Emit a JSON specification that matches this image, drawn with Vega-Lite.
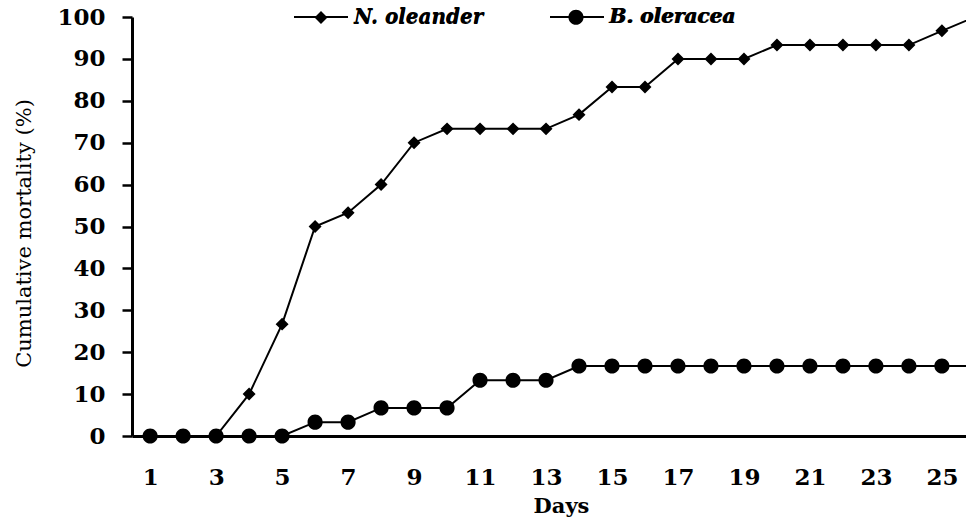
{
  "$schema": "https://vega.github.io/schema/vega-lite/v6.json",
  "width": 834,
  "height": 419,
  "autosize": {"type": "none"},
  "padding": {"left": 132, "top": 17, "right": 0, "bottom": 81},
  "background": "white",
  "data": {
    "values": [
      {"day": 1, "mortality": 0, "plant": "N. oleander"},
      {"day": 2, "mortality": 0, "plant": "N. oleander"},
      {"day": 3, "mortality": 0, "plant": "N. oleander"},
      {"day": 4, "mortality": 10, "plant": "N. oleander"},
      {"day": 5, "mortality": 26.7, "plant": "N. oleander"},
      {"day": 6, "mortality": 50, "plant": "N. oleander"},
      {"day": 7, "mortality": 53.3, "plant": "N. oleander"},
      {"day": 8, "mortality": 60, "plant": "N. oleander"},
      {"day": 9, "mortality": 70, "plant": "N. oleander"},
      {"day": 10, "mortality": 73.3, "plant": "N. oleander"},
      {"day": 11, "mortality": 73.3, "plant": "N. oleander"},
      {"day": 12, "mortality": 73.3, "plant": "N. oleander"},
      {"day": 13, "mortality": 73.3, "plant": "N. oleander"},
      {"day": 14, "mortality": 76.7, "plant": "N. oleander"},
      {"day": 15, "mortality": 83.3, "plant": "N. oleander"},
      {"day": 16, "mortality": 83.3, "plant": "N. oleander"},
      {"day": 17, "mortality": 90, "plant": "N. oleander"},
      {"day": 18, "mortality": 90, "plant": "N. oleander"},
      {"day": 19, "mortality": 90, "plant": "N. oleander"},
      {"day": 20, "mortality": 93.3, "plant": "N. oleander"},
      {"day": 21, "mortality": 93.3, "plant": "N. oleander"},
      {"day": 22, "mortality": 93.3, "plant": "N. oleander"},
      {"day": 23, "mortality": 93.3, "plant": "N. oleander"},
      {"day": 24, "mortality": 93.3, "plant": "N. oleander"},
      {"day": 25, "mortality": 96.7, "plant": "N. oleander"},
      {"day": 26, "mortality": 100, "plant": "N. oleander"},
      {"day": 1, "mortality": 0, "plant": "B. oleracea"},
      {"day": 2, "mortality": 0, "plant": "B. oleracea"},
      {"day": 3, "mortality": 0, "plant": "B. oleracea"},
      {"day": 4, "mortality": 0, "plant": "B. oleracea"},
      {"day": 5, "mortality": 0, "plant": "B. oleracea"},
      {"day": 6, "mortality": 3.3, "plant": "B. oleracea"},
      {"day": 7, "mortality": 3.3, "plant": "B. oleracea"},
      {"day": 8, "mortality": 6.7, "plant": "B. oleracea"},
      {"day": 9, "mortality": 6.7, "plant": "B. oleracea"},
      {"day": 10, "mortality": 6.7, "plant": "B. oleracea"},
      {"day": 11, "mortality": 13.3, "plant": "B. oleracea"},
      {"day": 12, "mortality": 13.3, "plant": "B. oleracea"},
      {"day": 13, "mortality": 13.3, "plant": "B. oleracea"},
      {"day": 14, "mortality": 16.7, "plant": "B. oleracea"},
      {"day": 15, "mortality": 16.7, "plant": "B. oleracea"},
      {"day": 16, "mortality": 16.7, "plant": "B. oleracea"},
      {"day": 17, "mortality": 16.7, "plant": "B. oleracea"},
      {"day": 18, "mortality": 16.7, "plant": "B. oleracea"},
      {"day": 19, "mortality": 16.7, "plant": "B. oleracea"},
      {"day": 20, "mortality": 16.7, "plant": "B. oleracea"},
      {"day": 21, "mortality": 16.7, "plant": "B. oleracea"},
      {"day": 22, "mortality": 16.7, "plant": "B. oleracea"},
      {"day": 23, "mortality": 16.7, "plant": "B. oleracea"},
      {"day": 24, "mortality": 16.7, "plant": "B. oleracea"},
      {"day": 25, "mortality": 16.7, "plant": "B. oleracea"},
      {"day": 26, "mortality": 16.7, "plant": "B. oleracea"}
    ]
  },
  "encoding": {
    "x": {
      "field": "day",
      "type": "quantitative",
      "title": "Days",
      "scale": {"domain": [0.45, 25.73], "nice": false, "zero": false},
      "axis": {
        "values": [1, 3, 5, 7, 9, 11, 13, 15, 17, 19, 21, 23, 25],
        "grid": false,
        "ticks": false,
        "labelPadding": 30,
        "labelBaseline": "top",
        "labelFlush": false,
        "titleX": 429,
        "titleY": 59,
        "titleBaseline": "top",
        "titleAlign": "center"
      }
    },
    "y": {
      "field": "mortality",
      "type": "quantitative",
      "title": "Cumulative mortality (%)",
      "scale": {"domain": [0, 100], "nice": false},
      "axis": {
        "values": [0, 10, 20, 30, 40, 50, 60, 70, 80, 90, 100],
        "grid": false,
        "tickSize": 10,
        "labelPadding": 17,
        "titleFontWeight": "normal",
        "titleFontSize": 21,
        "titleAngle": 270,
        "titleX": -108,
        "titleY": 216,
        "titleBaseline": "middle",
        "titleAlign": "center"
      }
    }
  },
  "layer": [
    {
      "mark": {"type": "line", "strokeWidth": 2, "clip": true},
      "encoding": {
        "color": {
          "field": "plant",
          "type": "nominal",
          "sort": ["N. oleander", "B. oleracea"],
          "scale": {"range": ["black", "black"]},
          "legend": {
            "title": null,
            "orient": "none",
            "legendX": 161,
            "legendY": -28,
            "direction": "horizontal",
            "symbolType": "stroke",
            "symbolSize": 2916,
            "symbolStrokeWidth": 2,
            "labelFont": "DejaVu Serif",
            "labelFontSize": 20,
            "labelFontWeight": "bold",
            "labelFontStyle": "italic",
            "labelColor": "black",
            "labelOffset": 5,
            "columnPadding": 62,
            "padding": 0
          }
        }
      }
    },
    {
      "transform": [{"filter": "datum.day <= 25"}],
      "mark": {
        "type": "point",
        "filled": true,
        "fill": "black",
        "strokeWidth": 0,
        "opacity": 1,
        "size": 2916
      },
      "encoding": {
        "shape": {
          "field": "plant",
          "type": "nominal",
          "scale": {
            "domain": ["N. oleander", "B. oleracea"],
            "range": [
              "M-1,0L-0.24,0M0.24,0L1,0M-0.24,0L0,-0.24L0.24,0L0,0.24Z",
              "M-1,0L-0.28,0M0.28,0L1,0M0.28,0A0.28,0.28,0,1,1,-0.28,0A0.28,0.28,0,1,1,0.28,0Z"
            ]
          },
          "legend": {
            "title": null,
            "orient": "none",
            "legendX": 161,
            "legendY": -28,
            "direction": "horizontal",
            "symbolSize": 2916,
            "symbolFillColor": "black",
            "labelFont": "DejaVu Serif",
            "labelFontSize": 20,
            "labelFontWeight": "bold",
            "labelFontStyle": "italic",
            "labelColor": "black",
            "labelOffset": 5,
            "columnPadding": 62,
            "padding": 0
          }
        }
      }
    }
  ],
  "config": {
    "view": {"stroke": null},
    "axis": {
      "domainColor": "black",
      "domainWidth": 3,
      "tickColor": "black",
      "tickWidth": 2.5,
      "labelFont": "DejaVu Serif",
      "labelFontSize": 23,
      "labelFontWeight": "bold",
      "labelColor": "black",
      "titleFont": "DejaVu Serif",
      "titleFontSize": 21,
      "titleFontWeight": "bold",
      "titleColor": "black"
    }
  }
}
